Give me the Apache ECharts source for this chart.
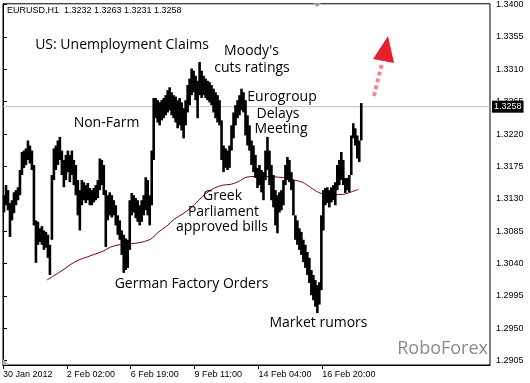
<!DOCTYPE html>
<html><head><meta charset="utf-8">
<script src="https://cdn.jsdelivr.net/npm/echarts@6/dist/echarts.min.js"></script>
<style>html,body{margin:0;padding:0;background:#fff}#c{width:530px;height:383px}</style>
</head><body><div id="c"></div>
<script>
// EURUSD H1, aggregated to 2-hour bars (hour offset from 30 Jan 2012)
const barHours = 2;
const barHigh = [
1.3135,1.3149,1.3142,1.3124,1.3128,1.3139,1.3142,1.3146,1.3170,1.3195,
1.3197,1.3200,1.3211,1.3204,1.3197,1.3177,1.3100,1.3098,1.3089,1.3092,
1.3086,1.3084,1.3080,1.3066,1.3163,1.3200,1.3204,1.3211,1.3216,1.3197,
1.3184,1.3191,1.3197,1.3191,1.3197,1.3184,1.3177,1.3156,1.3142,1.3156,
1.3153,1.3149,1.3152,1.3145,1.3142,1.3145,1.3149,1.3156,1.3186,1.3184,
1.3177,1.3142,1.3135,1.3139,1.3135,1.3128,1.3121,1.3107,1.3100,1.3086,
1.3080,1.3075,1.3073,1.3128,1.3138,1.3135,1.3131,1.3128,1.3121,1.3128,
1.3135,1.3160,1.3156,1.3135,1.3197,1.3270,1.3270,1.3267,1.3264,1.3267,
1.3270,1.3274,1.3281,1.3285,1.3278,1.3274,1.3272,1.3267,1.3270,1.3264,
1.3256,1.3267,1.3288,1.3297,1.3311,1.3308,1.3301,1.3294,1.3320,1.3308,
1.3301,1.3297,1.3294,1.3292,1.3288,1.3283,1.3278,1.3274,1.3267,1.3239,
1.3204,1.3200,1.3197,1.3204,1.3232,1.3250,1.3260,1.3267,1.3274,1.3283,
1.3278,1.3267,1.3246,1.3232,1.3211,1.3204,1.3191,1.3173,1.3177,1.3170,
1.3167,1.3197,1.3216,1.3197,1.3177,1.3163,1.3142,1.3135,1.3139,1.3142,
1.3156,1.3177,1.3188,1.3184,1.3167,1.3156,1.3107,1.3100,1.3089,1.3084,
1.3073,1.3066,1.3056,1.3048,1.3031,1.3024,1.3017,1.3010,1.3014,1.3107,
1.3142,1.3145,1.3146,1.3142,1.3146,1.3149,1.3153,1.3177,1.3184,1.3195,
1.3184,1.3159,1.3159,1.3163,1.3218,1.3235,1.3228,1.3218,1.3211,1.3263
];
const barLow = [
1.3111,1.3121,1.3114,1.3077,1.3100,1.3110,1.3121,1.3128,1.3135,1.3163,
1.3173,1.3177,1.3184,1.3179,1.3170,1.3093,1.3041,1.3066,1.3070,1.3066,
1.3059,1.3062,1.3048,1.3024,1.3073,1.3156,1.3170,1.3177,1.3184,1.3163,
1.3146,1.3156,1.3167,1.3153,1.3163,1.3149,1.3135,1.3107,1.3086,1.3121,
1.3128,1.3124,1.3128,1.3121,1.3121,1.3125,1.3128,1.3131,1.3142,1.3149,
1.3135,1.3063,1.3100,1.3107,1.3104,1.3107,1.3093,1.3080,1.3073,1.3052,
1.3027,1.3031,1.3034,1.3059,1.3107,1.3111,1.3103,1.3098,1.3093,1.3098,
1.3107,1.3114,1.3107,1.3093,1.3121,1.3184,1.3242,1.3236,1.3232,1.3239,
1.3242,1.3246,1.3250,1.3253,1.3246,1.3242,1.3236,1.3228,1.3232,1.3225,
1.3214,1.3232,1.3250,1.3260,1.3274,1.3278,1.3267,1.3242,1.3274,1.3270,
1.3274,1.3270,1.3267,1.3264,1.3260,1.3250,1.3242,1.3236,1.3232,1.3184,
1.3167,1.3173,1.3170,1.3173,1.3197,1.3214,1.3232,1.3242,1.3246,1.3253,
1.3250,1.3218,1.3204,1.3197,1.3177,1.3167,1.3159,1.3145,1.3149,1.3139,
1.3128,1.3156,1.3170,1.3149,1.3128,1.3118,1.3093,1.3082,1.3111,1.3114,
1.3121,1.3149,1.3156,1.3153,1.3142,1.3107,1.3073,1.3066,1.3059,1.3052,
1.3042,1.3034,1.3024,1.3013,1.2996,1.2989,1.2980,1.2971,1.2983,1.3003,
1.3086,1.3121,1.3124,1.3118,1.3125,1.3128,1.3121,1.3142,1.3149,1.3156,
1.3149,1.3138,1.3142,1.3139,1.3163,1.3214,1.3204,1.3186,1.3181,1.3211
];
// moving average, one value every 8 hours from hour 44
const maHourStart = 44, maHourStep = 8;
const maValues = [
1.3017,1.3024,1.3031,1.3039,1.3045,1.3049,1.3053,1.3057,1.3063,1.3066,
1.3067,1.3068,1.3070,1.3074,1.3084,1.3092,1.3102,1.3109,1.3117,1.3128,
1.3138,1.3145,1.3149,1.3150,1.3154,1.3160,1.3161,1.3161,1.3161,1.3160,
1.3159,1.3156,1.3153,1.3146,1.3139,1.3136,1.3136,1.3136,1.3139,1.3143
];
const timeTickHours = [0, 64, 128, 192, 256, 320];
const timeTickLabels = ['30 Jan 2012','2 Feb 02:00','6 Feb 19:00','9 Feb 11:00','14 Feb 04:00','16 Feb 20:00'];
const priceTicks = [1.2905,1.2950,1.2995,1.3040,1.3085,1.3130,1.3175,1.3220,1.3265,1.3310,1.3355,1.3400];
const lastPrice = 1.3258;
const headerText = 'EURUSD,H1  1.3232 1.3263 1.3231 1.3258';
const axisMinHour = 0, axisMaxHour = 488;

const annFont = '14px "Open Sans"';
const annotations = [
  ['US: Unemployment Claims', 122, 45.5],
  ["Moody's", 251.5, 51],
  ['cuts ratings', 252, 68.5],
  ['Eurogroup', 282, 97.5],
  ['Delays', 278, 114],
  ['Meeting', 281, 129],
  ['Non-Farm', 106.5, 123.5],
  ['Greek', 222.5, 196.5],
  ['Parliament', 223.5, 212.5],
  ['approved bills', 222, 227.5],
  ['German Factory Orders', 191.5, 284],
  ['Market rumors', 318.5, 323.5]
];

const chart = echarts.init(document.getElementById('c'), null, {renderer: 'canvas'});
const barData = barHigh.map((h, i) => [i * barHours, h, barLow[i]]);
const maData = maValues.map((v, i) => [maHourStart + i * maHourStep, v]);
const lastLine = [[axisMinHour, lastPrice], [axisMaxHour, lastPrice]];

const graphics = annotations.map(a => ({
  type: 'text', x: a[1], y: a[2], z: 50,
  style: {text: a[0], font: annFont, fill: '#000', textAlign: 'center', textVerticalAlign: 'middle'}
}));
graphics.push(
  {type: 'text', x: 7, y: 11, z: 50, style: {text: headerText, font: '9px "Liberation Sans"', fill: '#000', textVerticalAlign: 'middle'}},
  {type: 'text', x: 488, y: 349, z: 50, style: {text: 'RoboForex', font: '18px "Open Sans"', fill: '#8a8a8a', textAlign: 'right', textVerticalAlign: 'middle'}},
  {type: 'polyline', z: 40, shape: {points: [[374, 96], [382, 63]]}, style: {stroke: 'rgba(232,60,80,0.6)', lineWidth: 4, lineDash: [4, 3], fill: null}},
  {type: 'polygon', z: 41, shape: {points: [[388, 36], [373, 59], [394, 63]]}, style: {fill: '#e8202e'}},
  {type: 'polygon', z: 41, shape: {points: [[313, 3], [321, 3], [317, 7]]}, style: {fill: '#a0a0a0'}},
  {type: 'polygon', z: 41, shape: {points: [[3, 359], [3, 365], [9, 365]]}, style: {fill: '#b0b0b0'}}
);

chart.setOption({
  animation: false,
  backgroundColor: '#fff',
  grid: {left: 2, right: 40, top: 3, bottom: 18, show: true, borderColor: '#000', borderWidth: 1, backgroundColor: '#fff'},
  xAxis: {
    type: 'value', min: axisMinHour, max: axisMaxHour,
    axisLine: {show: true, lineStyle: {color: '#000', width: 1}},
    axisTick: {show: true, customValues: timeTickHours, length: 4, lineStyle: {color: '#000'}},
    axisLabel: {customValues: timeTickHours, formatter: v => timeTickLabels[timeTickHours.indexOf(v)] || '',
      align: 'left', margin: 5, fontSize: 9, fontFamily: 'Liberation Sans', color: '#000'},
    splitLine: {show: false}
  },
  yAxis: {
    type: 'value', position: 'right', min: 1.2899, max: 1.3401,
    axisLine: {show: true, lineStyle: {color: '#000', width: 1}},
    axisTick: {show: true, customValues: priceTicks, length: 4, lineStyle: {color: '#000'}},
    axisLabel: {customValues: priceTicks, formatter: v => v.toFixed(4), margin: 6, fontSize: 9, fontFamily: 'Liberation Sans', color: '#000'},
    splitLine: {show: false}
  },
  series: [
    {
      type: 'line', data: lastLine, showSymbol: false, z: 1, silent: true,
      lineStyle: {color: '#c0c0c0', width: 1},
      endLabel: {show: true, formatter: lastPrice.toFixed(4), backgroundColor: '#000', color: '#fff',
        fontSize: 9, fontFamily: 'Liberation Sans', padding: [2, 2, 1, 2], distance: 2}
    },
    {
      type: 'line', data: maData, showSymbol: false, smooth: 0.3, z: 3, silent: true,
      lineStyle: {color: '#800000', width: 1}
    },
    {
      type: 'custom', z: 4, data: barData, silent: true,
      encode: {x: 0, y: [1, 2]},
      renderItem: (params, api) => {
        const h = api.value(0);
        const p1 = api.coord([h, api.value(1)]);
        const p2 = api.coord([h + barHours, api.value(2)]);
        return {type: 'rect', shape: {x: p1[0] - 0.3, y: p1[1], width: p2[0] - p1[0] + 0.6, height: Math.max(1, p2[1] - p1[1])}, style: {fill: '#000'}};
      }
    }
  ],
  graphic: graphics
});
</script></body></html>
